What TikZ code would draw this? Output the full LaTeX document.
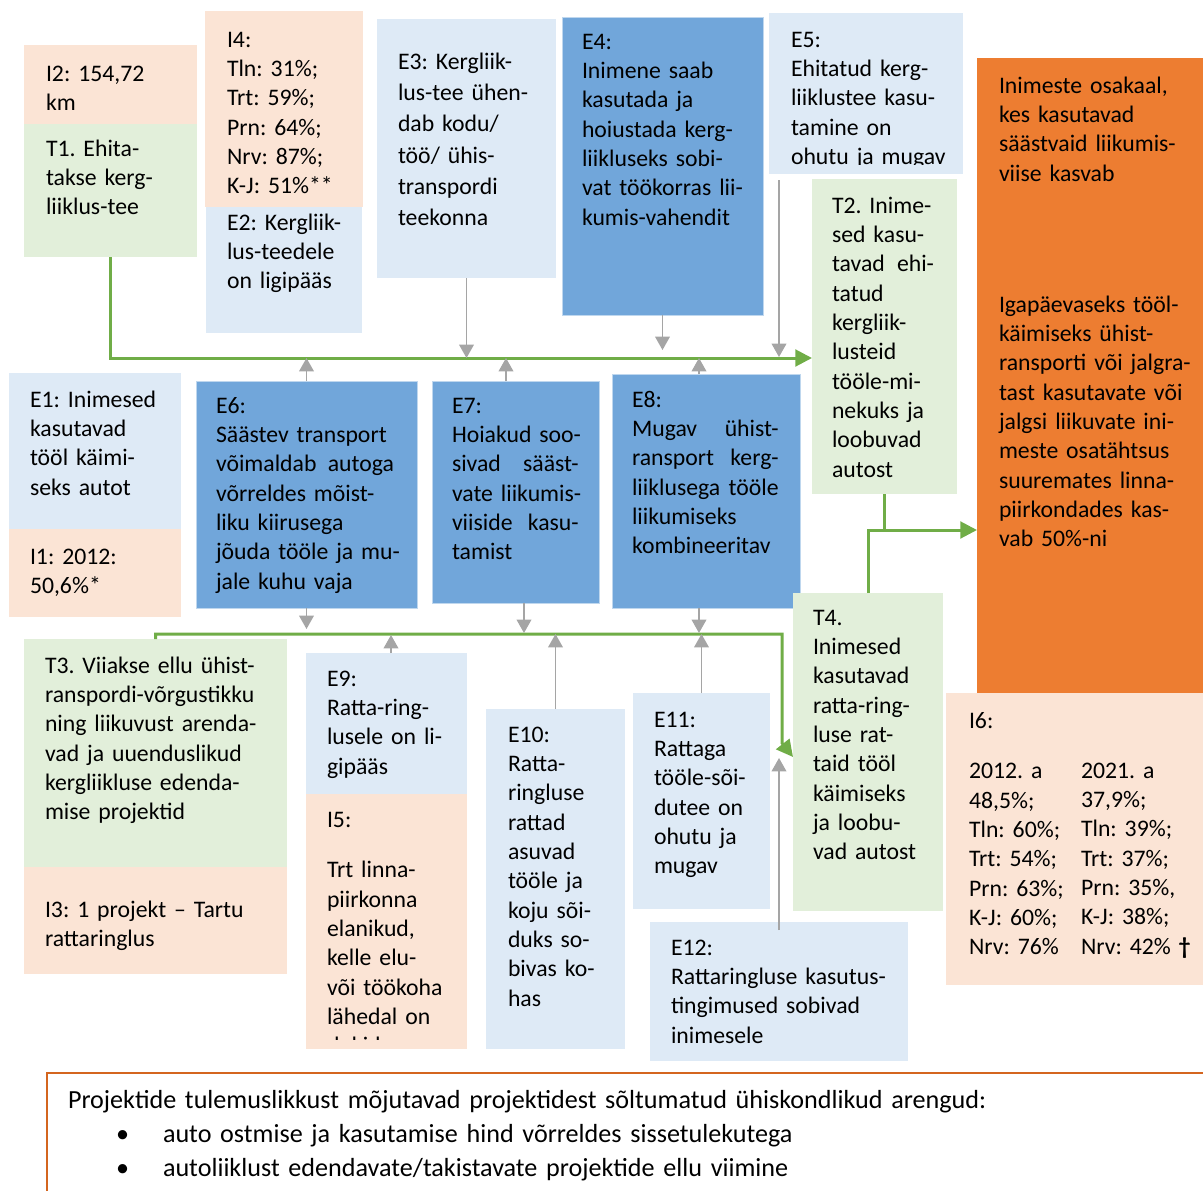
\documentclass[tikz,border=0pt]{standalone}
\usepackage{fontspec}
\setmainfont{Carlito}
\usetikzlibrary{fit,arrows.meta}
\definecolor{peach}{HTML}{FBE4D5}
\definecolor{lgreen}{HTML}{E2EFDA}
\definecolor{lblue}{HTML}{DEEAF6}
\definecolor{mblue}{HTML}{71A6DA}
\definecolor{orng}{HTML}{ED7D31}
\definecolor{gline}{HTML}{70AD47}
\definecolor{garr}{HTML}{A5A5A5}
\definecolor{brd}{HTML}{D4651F}
\frenchspacing
\newcommand\jline[3]{\makebox[#1][l]{#2\hfill #3}}
\newcommand\mybox[6]{\node[#1, fit={(#3,#4) (#5,#6)}] (#2) {};}
\tikzset{
 x=0.75pt, y=-0.75pt,
 box/.style={inner sep=0pt, outer sep=0pt},
 pbox/.style={box, fill=peach},
 gbox/.style={box, fill=lgreen},
 lbbox/.style={box, fill=lblue},
 mbbox/.style={box, fill=mblue, draw=white!55!mblue, line width=0.6pt},
 obox/.style={box, fill=orng},
 txt/.style={anchor=base west, inner sep=0pt, outer sep=0pt, align=left, text width=#1, font=\fontsize{17.8}{22}\selectfont},
 txt/.default=220pt,
 btxt/.style={txt=#1, font=\fontsize{19.6}{24}\selectfont},
 garrow/.style={draw=garr, line width=1.1pt, -{Triangle[width=11pt,length=10pt]}},
 gconn/.style={draw=gline, line width=2.25pt},
 glarrow/.style={gconn, -{Triangle[width=12.5pt,length=12.5pt]}},
}
\begin{document}
\begin{tikzpicture}
\useasboundingbox (0,0) rectangle (1203,1190);
% boxes
\mybox{pbox}{I2}{24}{45}{197}{124}
\mybox{gbox}{T1}{24}{124}{197}{257}
\mybox{pbox}{I4}{205}{11}{363}{207}
\mybox{lbbox}{E2}{206}{207}{362}{333}
\mybox{lbbox}{E3}{377}{19}{556}{278}
\mybox{mbbox}{E4}{562}{17}{763}{315}
\mybox{lbbox}{E5}{769}{13}{963}{174}
\mybox{gbox}{T2}{812}{179}{957}{494}
\mybox{obox}{O}{977}{58}{1203}{693}
\mybox{lbbox}{E1}{9}{373}{181}{529}
\mybox{pbox}{I1}{9}{529}{181}{617}
\mybox{mbbox}{E6}{196}{381}{417}{608}
\mybox{mbbox}{E7}{432}{381}{599}{603}
\mybox{mbbox}{E8}{612}{374}{800}{608}
\mybox{gbox}{T3}{24}{639}{287}{867}
\mybox{pbox}{I3}{24}{867}{287}{974}
\mybox{lbbox}{E9}{306}{653}{467}{794}
\mybox{pbox}{I5}{306}{794}{467}{1049}
\mybox{lbbox}{E10}{486}{709}{625}{1049}
\mybox{lbbox}{E11}{633}{693}{770}{909}
\mybox{lbbox}{E12}{650}{922}{908}{1061}
\mybox{gbox}{T4}{793}{593}{943}{911}
\mybox{pbox}{I6}{946}{693}{1203}{985}
\node[box, draw=brd, line width=1.5pt, fit={(47,1073) (1206,1196)}] (B) {};

% texts
\node[txt] (tI2) at (46,81) {I2: 154,72\\ km};
\node[txt] (tT1) at (46,156) {T1. Ehita-\\ takse kerg-\\ liiklus-tee};
\node[txt] (tI4) at (227,47) {I4:\\ Tln: 31\%;\\ Trt: 59\%;\\ Prn: 64\%;\\ Nrv: 87\%;\\ K-J: 51\%**};
\node[txt] (tE2) at (227,230) {E2: Kergliik-\\ lus-teedele\\ on ligipääs};
\node[txt, font=\fontsize{17.8}{23.5}\selectfont] (tE3) at (398,69) {E3: Kergliik-\\ lus-tee ühen-\\ dab kodu/\\ töö/ ühis-\\ transpordi\\ teekonna};
\node[txt] (tE4) at (582,49) {E4:\\ Inimene saab\\ kasutada ja\\ hoiustada kerg-\\ liikluseks sobi-\\ vat töökorras lii-\\ kumis-vahendit};
\begin{scope}
\clip (769,13) rectangle (963,164);
\node[txt] (tE5) at (791,47) {E5:\\ Ehitatud kerg-\\ liiklustee kasu-\\ tamine on\\ ohutu ja mugav};
\end{scope}
\node[txt] (tT2) at (832,213) {T2. Inime-\\ sed kasu-\\ \jline{76.5pt}{tavad}{ehi-}\\ tatud\\ kergliik-\\ lusteid\\ tööle-mi-\\ nekuks ja\\ loobuvad\\ autost};
\node[txt] (tO1) at (999,93) {Inimeste osakaal,\\ kes kasutavad\\ säästvaid liikumis-\\ viise kasvab};
\node[txt] (tO2) at (999,312) {Igapäevaseks tööl-\\ käimiseks ühist-\\ ransporti või jalgra-\\ tast kasutavate või\\ jalgsi liikuvate ini-\\ meste osatähtsus\\ suuremates linna-\\ piirkondades kas-\\ vab 50\%-ni};
\node[txt] (tE1) at (30,407) {E1: Inimesed\\ kasutavad\\ tööl käimi-\\ seks autot};
\node[txt] (tI1) at (30,564) {I1: 2012:\\ 50,6\%*};
\node[txt] (tE6) at (216,413) {E6:\\ Säästev transport\\ \jline{133.5pt}{võimaldab}{autoga}\\ võrreldes mõist-\\ liku kiirusega\\ jõuda tööle ja mu-\\ jale kuhu vaja};
\node[txt] (tE7) at (452,413) {E7:\\ Hoiakud soo-\\ \jline{95pt}{sivad}{sääst-}\\ vate liikumis-\\ \jline{95pt}{viiside}{kasu-}\\ tamist};
\node[txt] (tE8) at (632,407) {E8:\\ \jline{110pt}{Mugav}{ühist-}\\ \jline{110pt}{ransport}{kerg-}\\ \jline{110pt}{liiklusega}{tööle}\\ liikumiseks\\ kombineeritav};
\node[txt] (tT3) at (45,673) {T3. Viiakse ellu ühist-\\ ranspordi-võrgustikku\\ ning liikuvust arenda-\\ vad ja uuenduslikud\\ kergliikluse edenda-\\ mise projektid};
\node[txt] (tI3) at (45,917) {I3: 1 projekt – Tartu\\ rattaringlus};
\node[txt] (tE9) at (327,686) {E9:\\ Ratta-ring-\\ lusele on li-\\ gipääs};
\begin{scope}
\clip (306,794) rectangle (467,1039);
\node[txt] (tI5) at (327,827) {I5:\\[16pt] Trt linna-\\ piirkonna\\ elanikud,\\ kelle elu-\\ või töökoha\\ lähedal on\\ dokid};
\end{scope}
\node[txt] (tE10) at (508,742) {E10:\\ Ratta-\\ ringluse\\ rattad\\ asuvad\\ tööle ja\\ koju sõi-\\ duks so-\\ bivas ko-\\ has};
\node[txt] (tE11) at (654,727) {E11:\\ Rattaga\\ tööle-sõi-\\ dutee on\\ ohutu ja\\ mugav};
\node[txt] (tE12) at (671,955) {E12:\\ Rattaringluse kasutus-\\ tingimused sobivad\\ inimesele};
\node[txt] (tT4) at (813,625) {T4.\\ Inimesed\\ kasutavad\\ ratta-ring-\\ luse rat-\\ taid tööl\\ käimiseks\\ ja loobu-\\ vad autost};
\node[txt] (tI6a) at (969,728) {I6:\\[16pt] 2012. a\\ 48,5\%;\\ Tln: 60\%;\\ Trt: 54\%;\\ Prn: 63\%;\\ K-J: 60\%;\\ Nrv: 76\%};
\node[txt] (tI6b) at (1081,778) {2021. a\\ 37,9\%;\\ Tln: 39\%;\\ Trt: 37\%;\\ Prn: 35\%,\\ K-J: 38\%;\\ Nrv: 42\% \textbf{†}};
\node[btxt=900pt] (tB) at (68,1108) {Projektide tulemuslikkust mõjutavad projektidest sõltumatud ühiskondlikud arengud:};
\node[btxt=20pt] (b1) at (116,1142) {•};
\node[btxt=800pt] (tB1) at (163,1142) {auto ostmise ja kasutamise hind võrreldes sissetulekutega};
\node[btxt=20pt] (b2) at (116,1176) {•};
\node[btxt=800pt] (tB2) at (163,1176) {autoliiklust edendavate/takistavate projektide ellu viimine};

% helper coordinates
\coordinate (L1) at (0,358);
\coordinate (L2) at (0,634);
\coordinate (C2) at (782,634);
\coordinate (C2b) at (782,743);
\coordinate (T4a) at (793,757);
\coordinate (J3) at (0,530);
\coordinate (a4) at (662.5,350);
\coordinate (e5s) at (779,180);
\coordinate (e5l) at (779,357);
\coordinate (e7t) at (506,381);
\coordinate (e7l) at (506,358);
\coordinate (e8t) at (699,374);
\coordinate (e8l) at (699,358);
\coordinate (e6d) at (306.5,629);
\coordinate (e7b) at (524,603);
\coordinate (e7d) at (524,633);
\coordinate (e8b) at (699,608);
\coordinate (e8d) at (699,633);
\coordinate (e9t) at (391,653);
\coordinate (e9l) at (391,635);
\coordinate (P12) at (779,758);
\coordinate (e12s) at (779,930);

% green connectors
\draw[glarrow] (T1.south) |- (T2.west |- L1);
\draw[glarrow] (T3.north) |- (C2) -- (C2b) -- (T4a);
\draw[gconn] (T2.south) -- (T2.south |- J3);
\draw[glarrow] (T4.north) |- (O.west |- J3);

% gray arrows to line 1
\draw[garrow] (E3.south) -- (E3.south |- L1);
\draw[garrow] (E4.south) -- (a4);
\draw[garrow] (e5s) -- (e5l);
\draw[garrow] (E6.north) -- (E6.north |- L1);
\draw[garrow] (e7t) -- (e7l);
\draw[garrow] (e8t) -- (e8l);
% gray arrows to line 2
\draw[garrow] (E6.south) -- (e6d);
\draw[garrow] (e7b) -- (e7d);
\draw[garrow] (e8b) -- (e8d);
\draw[garrow] (e9t) -- (e9l);
\draw[garrow] (E10.north) -- (E10.north |- L2);
\draw[garrow] (E11.north) -- (E11.north |- L2);
\draw[garrow] (e12s) -- (P12);
\end{tikzpicture}
\end{document}
